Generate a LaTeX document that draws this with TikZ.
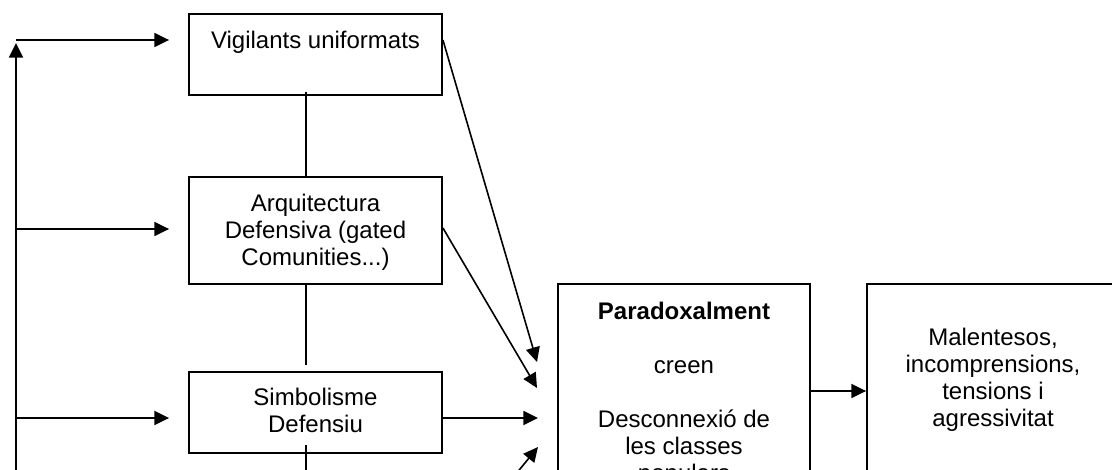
\documentclass[tikz,border=0pt]{standalone}
\usepackage{fontspec}
\setmainfont{Liberation Sans}
\usetikzlibrary{arrows.meta}
\begin{document}
\begin{tikzpicture}[x=0.75pt,y=-0.75pt,
  box/.style={draw, line width=1.4pt, inner sep=0, minimum width=189.75pt},
  txt/.style={inner sep=0, align=center, anchor=north, font=\fontsize{18}{20.25}\selectfont},
  ln/.style={line width=1.2pt},
  arr/.style={line width=1.2pt, -{Triangle[length=11pt,width=10.5pt]}}]
\useasboundingbox (0,0) rectangle (1112,470);
\fill[white] (0,0) rectangle (1112,470);
\clip (0,0) rectangle (1112,470);
% boxes
\node[box, minimum height=60.75pt] (vig) at (315.5,54.5) {};
\node[box, minimum height=80.25pt] (arq) at (315.5,230.5) {};
\node[box, minimum height=60.75pt] (sim) at (315.5,412.5) {};
\node[box, minimum width=189pt, minimum height=192pt] (par) at (684,412) {};
\node[box, minimum width=189pt, minimum height=192pt] (mal) at (993,412) {};
% texts
\node[txt] (tvig) at (315.5,29.7) {\strut Vigilants uniformats};
\node[txt] (tarq) at (315.5,192.7) {\strut Arquitectura\\Defensiva (gated\\Comunities...)};
\node[txt] (tsim) at (315.5,386.7) {\strut Simbolisme\\Defensiu};
\node[txt] (tpar) at (684,300.7) {\strut\textbf{Paradoxalment}\\[20.25pt]creen\\[20.25pt]Desconnexió de\\les classes\\populars};
\node[txt] (tmal) at (993,326.7) {\strut Malentesos,\\incomprensions,\\tensions i\\agressivitat};
% coordinates
\coordinate (lb) at (16,490);
\coordinate (lt) at (16,43);
\coordinate (l1) at (16,40);
\coordinate (l2) at (16,229);
\coordinate (l3) at (16,418);
\coordinate (v1) at (443,40);
\coordinate (a1) at (443,228);
\coordinate (p1) at (537,362);
\coordinate (p2) at (537,388);
\coordinate (p3) at (538,418);
\coordinate (p4) at (538,447);
\coordinate (b0) at (502,491);
\coordinate (s1) at (306,445);
\coordinate (s2) at (306,490);
% left feedback line
\draw[arr] (lb) -- (lt);
\draw[arr] (l1) -- ([xshift=-14.25pt]vig.west |- l1);
\draw[arr] (l2) -- ([xshift=-14.25pt]arq.west |- l2);
\draw[arr] (l3) -- ([xshift=-14.25pt]sim.west |- l3);
% vertical links
\draw[ln] (306,92) -- (arq.north -| 306,0);
\draw[ln] (arq.south -| 306,0) -- (306,365);
\draw[ln] (s1) -- (s2);
% into Paradoxalment
\draw[arr] (vig.east |- v1) -- (p1);
\draw[arr] (arq.east |- a1) -- (p2);
\draw[arr] (sim.east |- p3) -- (p3);
\draw[arr] (b0) -- (p4);
\draw[arr] (par.east |- 0,391) -- (mal.west |- 0,391);
\end{tikzpicture}
\end{document}
